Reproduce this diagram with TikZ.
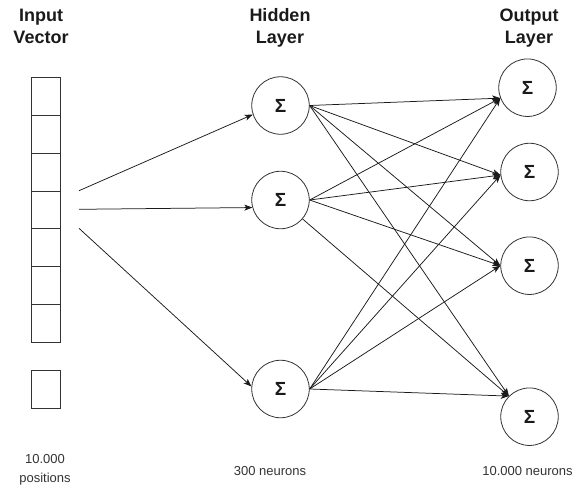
\documentclass[tikz,border=0pt]{standalone}
\usepackage{fontspec}
\setmainfont{Liberation Sans}
\usetikzlibrary{arrows.meta}
\definecolor{ink}{HTML}{333333}
\definecolor{dark}{HTML}{1A1A1A}
\tikzset{
  cell/.style={draw=ink, line width=0.8pt, minimum width=29pt, minimum height=37.7pt, inner sep=0pt, anchor=north west},
  neuron/.style={circle, draw=ink, line width=0.8pt, minimum size=57.5pt, inner sep=0pt, font=\fontsize{19}{19}\selectfont\bfseries, text=dark},
  title/.style={align=center, font=\fontsize{18}{21.3}\selectfont\bfseries, text=dark},
  caption/.style={align=center, font=\fontsize{13}{18.5}\selectfont, text=ink},
  conn/.style={draw=dark, line width=0.75pt, -{Stealth[length=8pt,width=6pt,inset=2pt]}}
}
\begin{document}
\begin{tikzpicture}[x=1pt, y=-1pt]
\useasboundingbox (0,0) rectangle (582,493);
% input vector cells
\node[cell] (c1) at (31,77.3) {};
\node[cell] (c2) at (31,115.0) {};
\node[cell] (c3) at (31,152.8) {};
\node[cell] (c4) at (31,190.5) {};
\node[cell] (c5) at (31,228.3) {};
\node[cell] (c6) at (31,266.0) {};
\node[cell] (c7) at (31,303.8) {};
\node[cell] (c8) at (31,370.0) {};
% titles
\node[title, anchor=base] (t1) at (41,43) {Input\\Vector};
\node[title, anchor=base] (t2) at (280,43) {Hidden\\Layer};
\node[title, anchor=base] (t3) at (529,43) {Output\\Layer};
% captions
\node[caption] (b1) at (45,470) {10.000\\positions};
\node[caption] (b2) at (270,471.5) {300 neurons};
\node[caption] (b3) at (527.5,471.5) {10.000 neurons};
% neurons
\node[neuron] (h1) at (280.5,105.5) {Σ};
\node[neuron] (h2) at (280.5,200) {Σ};
\node[neuron] (h3) at (280.5,389) {Σ};
\node[neuron] (o1) at (527.5,87.7) {Σ};
\node[neuron] (o2) at (529.5,172) {Σ};
\node[neuron] (o3) at (529.5,265.7) {Σ};
\node[neuron] (o4) at (529.5,416.7) {Σ};
% input connectors
\coordinate (s1) at (79,190.7);
\coordinate (s2) at (79,209.3);
\coordinate (s3) at (79,228.3);
\draw[conn] (s1) -- (h1.198);
\draw[conn] (s2) -- (h2.195);
\draw[conn] (s3) -- (h3.175);
% hidden to output
\foreach \h in {h1,h3}{
  \draw[conn] (\h.east) -- (o1.201);
  \draw[conn] (\h.east) -- (o2.186);
  \draw[conn] (\h.east) -- (o3.180);
  \draw[conn] (\h.east) -- (o4.135);
}
\draw[conn] (h2.east) -- (o1.201);
\draw[conn] (h2.east) -- (o2.186);
\draw[conn] (h2.east) -- (o3.180);
\draw[conn] (h2) -- (o4.135);
\end{tikzpicture}
\end{document}
